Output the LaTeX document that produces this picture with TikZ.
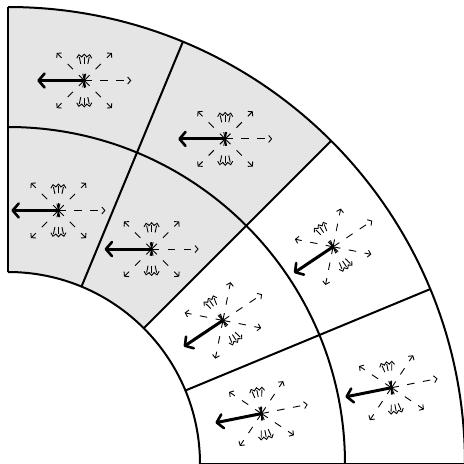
\documentclass[tikz,border=0pt]{standalone}
\usetikzlibrary{arrows.meta}
\definecolor{cellgrey}{gray}{0.9}
\tikzset{
  gridline/.style={line width=2pt, black},
  dasharrow/.style={line width=0.9pt, black, dash pattern=on 7.5pt off 8.5pt,
    -{Straight Barb[length=3pt,width=7pt,line width=0.9pt]}},
  triarrow/.style={line width=0.9pt, black, dash pattern=on 7pt off 10pt,
    -{Straight Barb[length=3pt,width=5.5pt,line width=0.9pt]}},
  boldarrow/.style={line width=3pt, black,
    -{Straight Barb[length=6pt,width=14pt,line width=2.6pt,round]}},
  pics/lattstar/.style={code={
    \coordinate (-c) at (0,0);
    \draw[dasharrow] (-c) -- (0:47);
    \foreach \a in {45,135,225,315} \draw[dasharrow] (-c) -- (\a:39);
    \foreach \a in {78,90,102,258,270,282} \draw[triarrow] (-c) -- (\a:27);
    \draw[boldarrow] (-c) -- (180:47);
  }}
}
\begin{document}
\begin{tikzpicture}[x=1pt,y=1pt]
\useasboundingbox (-8,0) rectangle (456,464);
% grey cells
\fill[cellgrey] (45:192) arc[start angle=45,end angle=90,radius=192]
  -- (90:457) arc[start angle=90,end angle=45,radius=457] -- cycle;
% stars
\foreach \r in {391,258.5}{
  \pic (s\r a) at (78.75:\r) {lattstar};
  \pic (s\r b) at (56.25:\r) {lattstar};
  \pic[rotate=33.75] (s\r c) at (33.75:\r) {lattstar};
  \pic[rotate=11.25] (s\r d) at (11.25:\r) {lattstar};
}
% grid
\foreach \r in {192,337,457}
  \draw[gridline] (0:\r) arc[start angle=0,end angle=90,radius=\r];
\foreach \a in {0,22.5,45,67.5,90}
  \draw[gridline] (\a:192) -- (\a:457);
\end{tikzpicture}
\end{document}
